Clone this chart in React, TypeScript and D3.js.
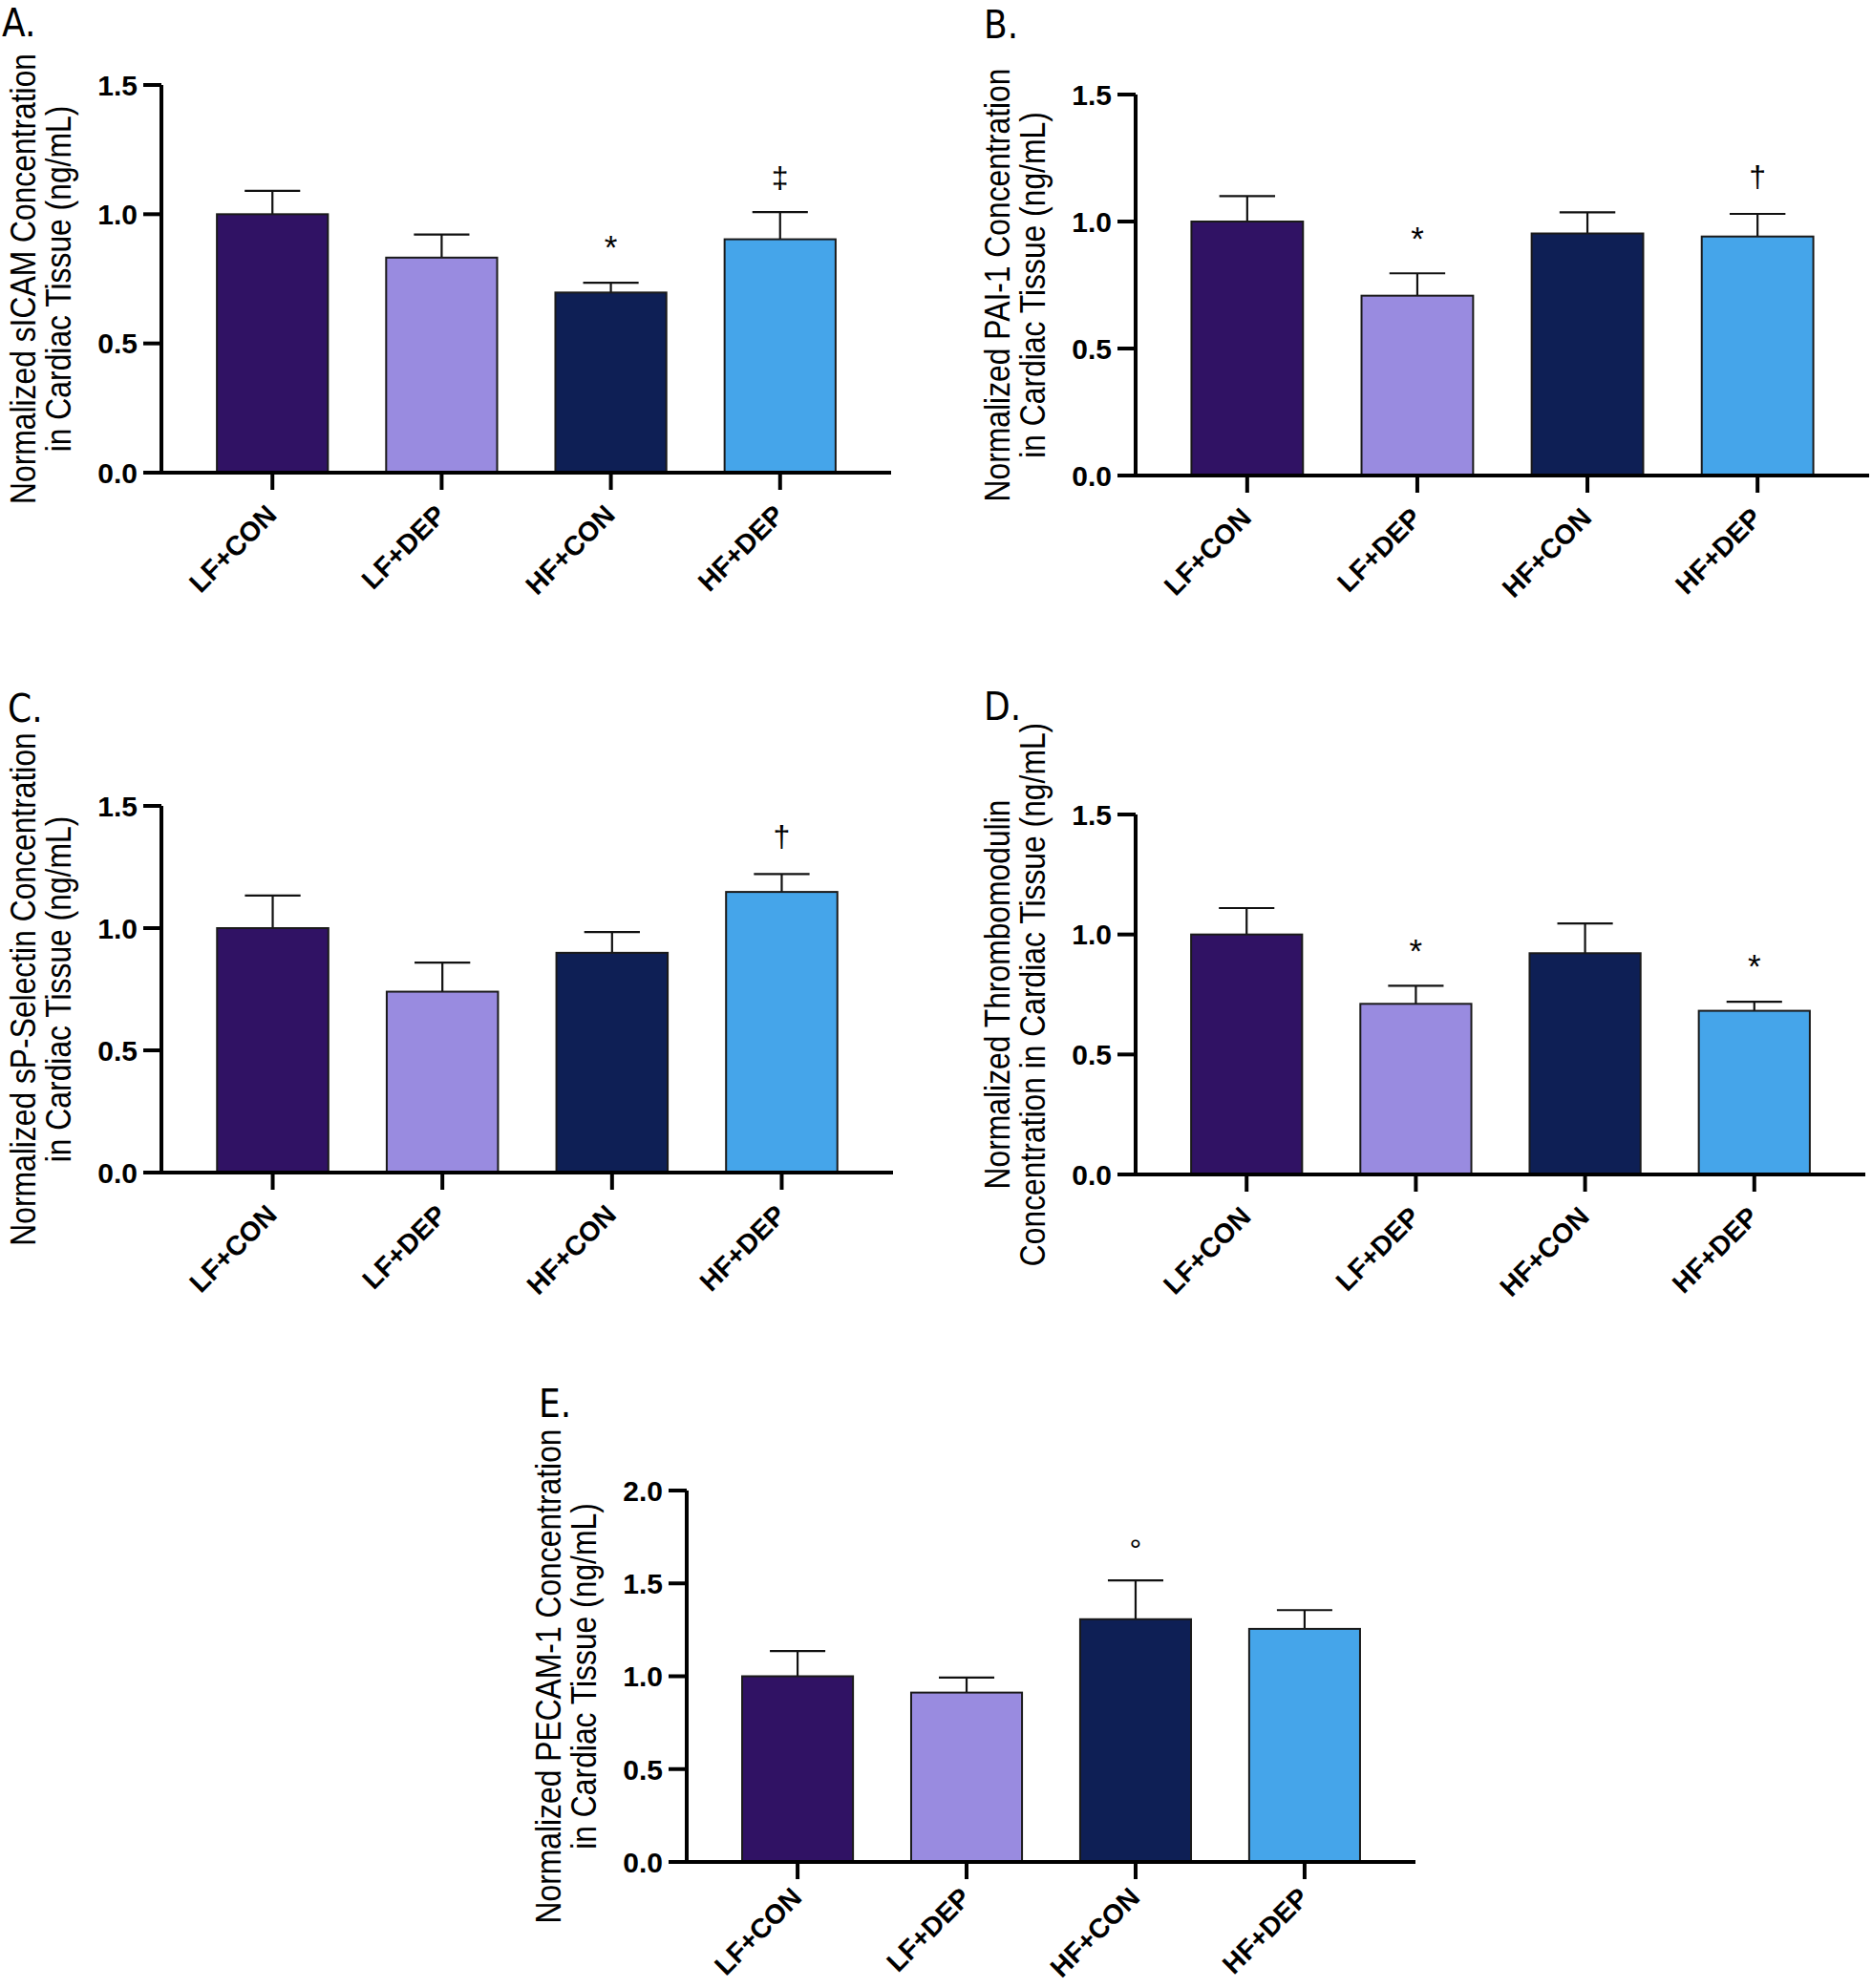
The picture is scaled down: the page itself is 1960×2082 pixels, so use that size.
import React from "react";
import * as d3 from "d3";

const groups = ["LF+CON", "LF+DEP", "HF+CON", "HF+DEP"];
const groupColors = ["#301264", "#998be0", "#0e1f55", "#45a5ea"];

const sicamMean = [1.0, 0.832, 0.697, 0.903];
const sicamSem = [0.09, 0.089, 0.038, 0.105];
const pai1Mean = [1.0, 0.708, 0.953, 0.941];
const pai1Sem = [0.1, 0.088, 0.083, 0.089];
const selectinMean = [1.0, 0.74, 0.899, 1.148];
const selectinSem = [0.133, 0.119, 0.085, 0.073];
const thrombomodulinMean = [1.0, 0.711, 0.922, 0.682];
const thrombomodulinSem = [0.11, 0.075, 0.124, 0.038];
const pecamMean = [1.0, 0.912, 1.307, 1.255];
const pecamSem = [0.136, 0.081, 0.209, 0.101];

const ticks15 = [0, 0.5, 1.0, 1.5];
const ticks20 = [0, 0.5, 1.0, 1.5, 2.0];

const panels = [
  {
    letter: "A.",
    title: ["Normalized sICAM Concentration", "in Cardiac Tissue (ng/mL)"],
    mean: sicamMean,
    sem: sicamSem,
    ticks: ticks15,
    marks: [[2, "*"], [3, "‡"]] as [number, string][],
  },
  {
    letter: "B.",
    title: ["Normalized PAI-1 Concentration", "in Cardiac Tissue (ng/mL)"],
    mean: pai1Mean,
    sem: pai1Sem,
    ticks: ticks15,
    marks: [[1, "*"], [3, "†"]] as [number, string][],
  },
  {
    letter: "C.",
    title: ["Normalized sP-Selectin Concentration", "in Cardiac Tissue (ng/mL)"],
    mean: selectinMean,
    sem: selectinSem,
    ticks: ticks15,
    marks: [[3, "†"]] as [number, string][],
  },
  {
    letter: "D.",
    title: ["Normalized Thrombomodulin", "Concentration in Cardiac Tissue (ng/mL)"],
    mean: thrombomodulinMean,
    sem: thrombomodulinSem,
    ticks: ticks15,
    marks: [[1, "*"], [3, "*"]] as [number, string][],
  },
  {
    letter: "E.",
    title: ["Normalized PECAM-1 Concentration", "in Cardiac Tissue (ng/mL)"],
    mean: pecamMean,
    sem: pecamSem,
    ticks: ticks20,
    marks: [[2, "°"]] as [number, string][],
  },
];

const layout = [
  { x0: 169, x1: 933, yTop: 89, yBot: 495, lx: 2, ly: 38, labDy: 46 },
  { x0: 1189, x1: 1957, yTop: 99, yBot: 498, lx: 1030, ly: 40, labDy: 46 },
  { x0: 169, x1: 935, yTop: 844, yBot: 1228, lx: 8, ly: 756, labDy: 46 },
  { x0: 1189, x1: 1953, yTop: 853, yBot: 1230, lx: 1030, ly: 754, labDy: 46 },
  { x0: 719, x1: 1482, yTop: 1561, yBot: 1950, lx: 564, ly: 1484, labDy: 39 },
];

const markStyle: Record<string, { size: number; gap: number; k: number }> = {
  "*": { size: 35, gap: 45, k: 0.58 },
  "†": { size: 32, gap: 37, k: 0.27 },
  "‡": { size: 32, gap: 34, k: 0.27 },
  "°": { size: 32, gap: 40, k: 0.58 },
};

const FONT = "'Liberation Sans', Arial, Helvetica, sans-serif";

function Panel({ p, l }: { p: (typeof panels)[number]; l: (typeof layout)[number] }) {
  const x = d3
    .scaleBand<string>()
    .domain(groups)
    .range([l.x0, l.x1])
    .paddingInner(0.344)
    .paddingOuter(0.328);
  const yMax = p.ticks[p.ticks.length - 1];
  const y = d3.scaleLinear().domain([0, yMax]).range([l.yBot, l.yTop]);
  const bw = x.bandwidth();
  const midY = (l.yTop + l.yBot) / 2;

  return (
    <g>
      <text x={l.lx} y={l.ly} fontFamily="'DejaVu Sans Condensed', 'DejaVu Sans', sans-serif" fontSize={40} fill="#000">
        {p.letter}
      </text>
      <g
        transform={`translate(${l.x0 - 132},${midY}) rotate(-90) scale(0.86,1)`}
        fontFamily={FONT}
        fontSize={37}
        textAnchor="middle"
        fill="#000"
      >
        <text x={0} y={0}>{p.title[0]}</text>
        <text x={0} y={37}>{p.title[1]}</text>
      </g>
      {groups.map((g, i) => {
        const cx = (x(g) as number) + bw / 2;
        const top = y(p.mean[i]);
        const et = y(p.mean[i] + p.sem[i]);
        return (
          <g key={g}>
            <line x1={cx} x2={cx} y1={top} y2={et} stroke="#111" strokeWidth={2.2} />
            <line x1={cx - bw / 4} x2={cx + bw / 4} y1={et} y2={et} stroke="#111" strokeWidth={2.2} />
            <rect
              x={x(g)}
              y={top}
              width={bw}
              height={l.yBot - top}
              fill={groupColors[i]}
              stroke="#1a1a1a"
              strokeWidth={2}
            />
          </g>
        );
      })}
      {p.marks.map(([i, s]) => {
        const cx = (x(groups[i]) as number) + bw / 2;
        const st = markStyle[s];
        const center = y(p.mean[i] + p.sem[i]) - st.gap;
        return (
          <text
            key={i + s}
            x={cx}
            y={center + st.k * st.size}
            textAnchor="middle"
            fontFamily={FONT}
            fontSize={st.size}
            fill="#000"
          >
            {s}
          </text>
        );
      })}
      <line x1={l.x0} x2={l.x0} y1={l.yTop} y2={l.yBot + 2} stroke="#000" strokeWidth={4} />
      <line x1={l.x0 - 2} x2={l.x1} y1={l.yBot} y2={l.yBot} stroke="#000" strokeWidth={4} />
      {p.ticks.map((t) => (
        <g key={t}>
          <line x1={l.x0 - 19} x2={l.x0} y1={y(t)} y2={y(t)} stroke="#000" strokeWidth={4} />
          <text
            x={l.x0 - 25}
            y={y(t)}
            dy="0.36em"
            textAnchor="end"
            fontFamily={FONT}
            fontWeight="bold"
            fontSize={30}
            fill="#000"
          >
            {t.toFixed(1)}
          </text>
        </g>
      ))}
      {groups.map((g) => {
        const cx = (x(g) as number) + bw / 2;
        return (
          <g key={"t" + g}>
            <line x1={cx} x2={cx} y1={l.yBot} y2={l.yBot + 18} stroke="#000" strokeWidth={4} />
            <text
              transform={`translate(${cx + 6},${l.yBot + l.labDy}) rotate(-45)`}
              textAnchor="end"
              fontFamily={FONT}
              fontWeight="bold"
              fontSize={28.5}
              fill="#000"
            >
              {g}
            </text>
          </g>
        );
      })}
    </g>
  );
}

export default function App() {
  return (
    <svg
      width={1960}
      height={2082}
      viewBox="0 0 1960 2082"
      style={{ position: "absolute", left: 0, top: 0, background: "#fff" }}
    >
      <rect x={0} y={0} width={1960} height={2082} fill="#fff" />
      {panels.map((p, i) => (
        <Panel key={p.letter} p={p} l={layout[i]} />
      ))}
    </svg>
  );
}
